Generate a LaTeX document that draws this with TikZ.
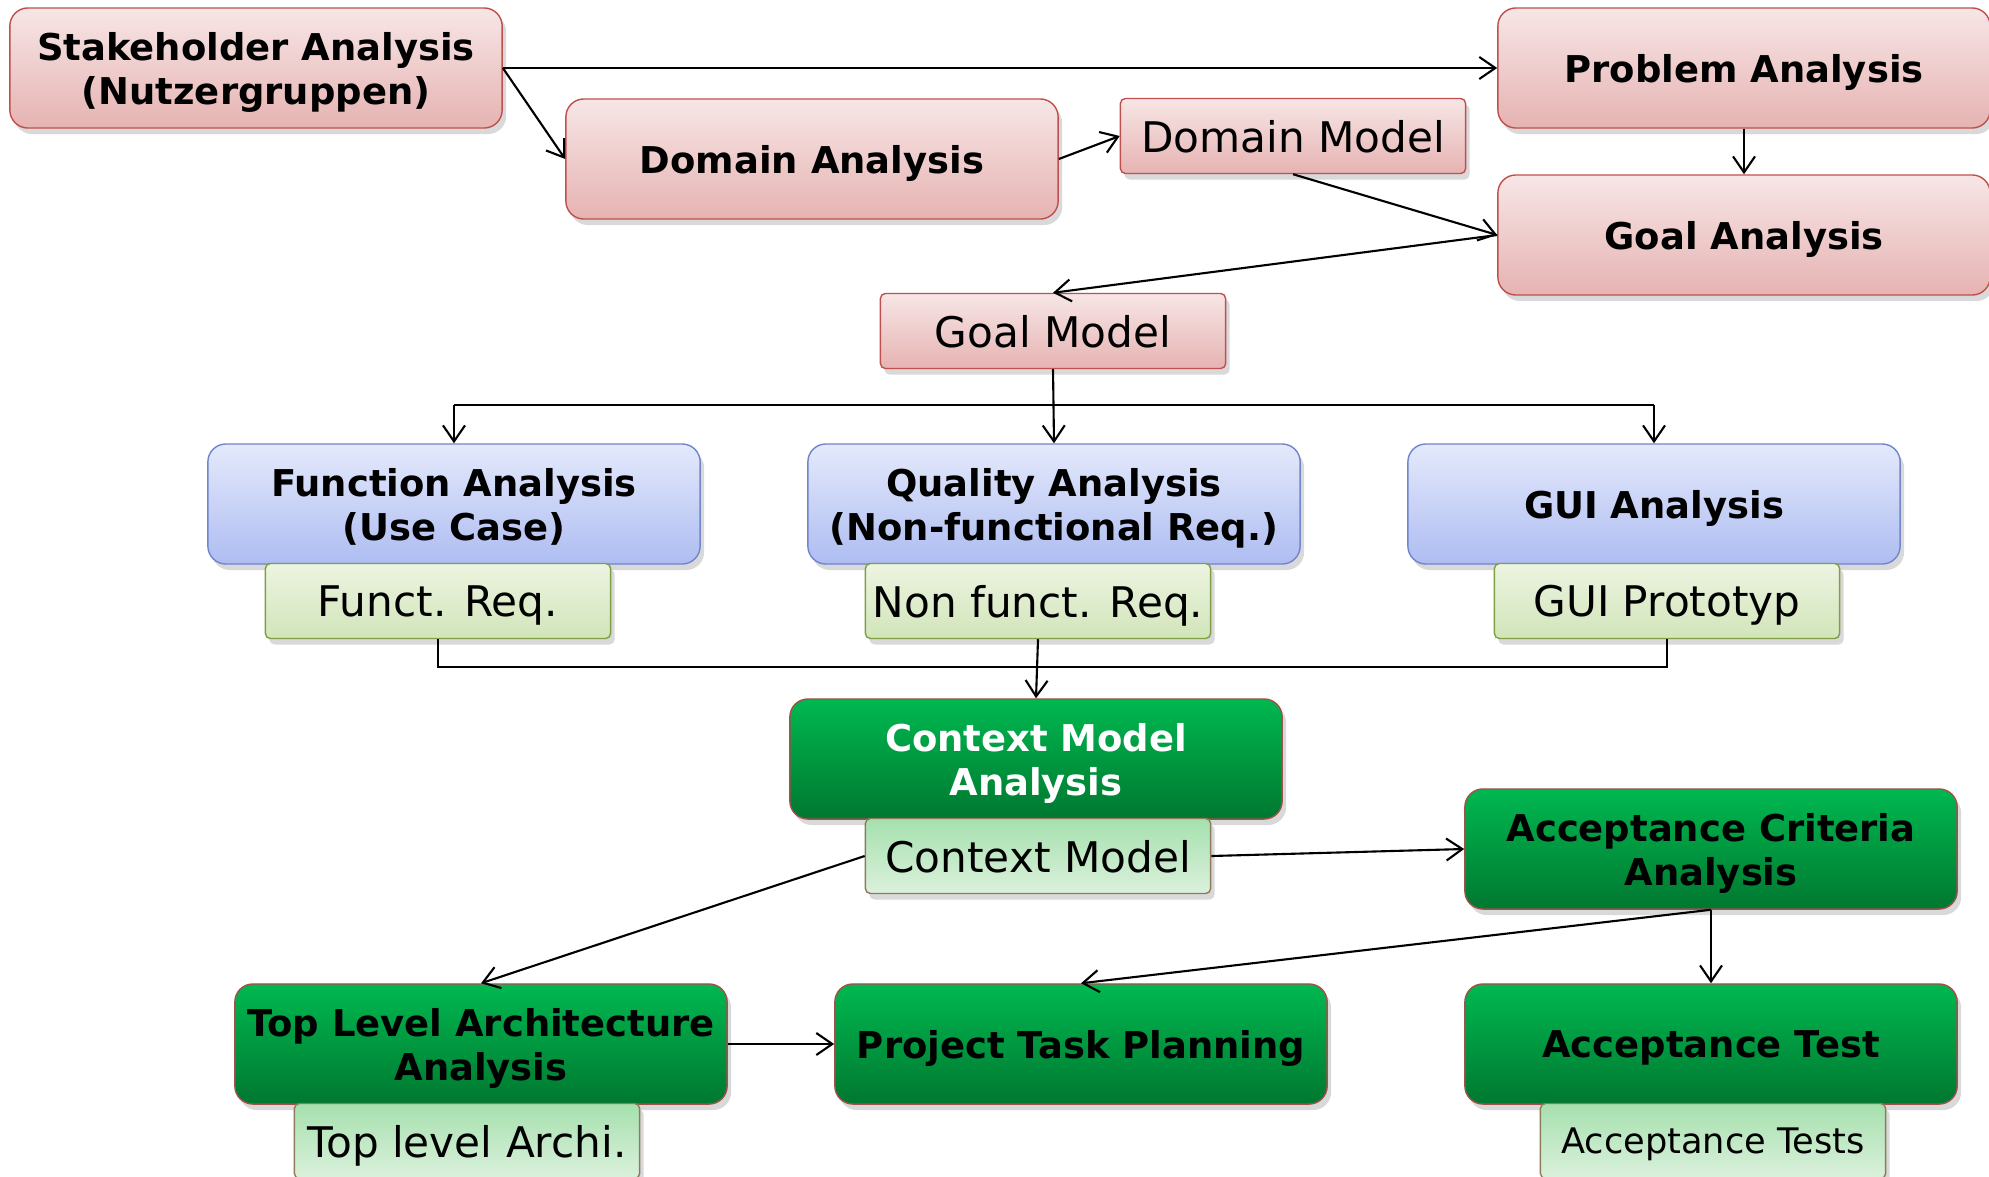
\documentclass[tikz,border=0pt]{standalone}
\usepackage{fontspec}
\setmainfont{DejaVu Sans}
\usetikzlibrary{arrows.meta,shadows}

\definecolor{redline}{HTML}{C0504D}
\definecolor{redtop}{HTML}{F7E6E6}
\definecolor{redbot}{HTML}{E6B3B2}
\definecolor{blueline}{HTML}{7085CC}
\definecolor{bluetop}{HTML}{E4E9FB}
\definecolor{bluebot}{HTML}{AEBDF2}
\definecolor{lgreenline}{HTML}{7F9F45}
\definecolor{lgreentop}{HTML}{EDF4E1}
\definecolor{lgreenbot}{HTML}{D1E5B9}
\definecolor{dgreenline}{HTML}{A0504D}
\definecolor{dgreentop}{HTML}{00B850}
\definecolor{dgreenbot}{HTML}{007830}
\definecolor{mgreenline}{HTML}{8D7B5B}
\definecolor{mgreentop}{HTML}{A6E0AE}
\definecolor{mgreenbot}{HTML}{DBF1DC}

\begin{document}
\begin{tikzpicture}[x=0.01cm,y=-0.01cm,
	>={Straight Barb[length=1.6mm,width=2.2mm]},
	shadowed/.style={drop shadow={shadow xshift=0.4mm,shadow yshift=-0.6mm,opacity=0.3}},
	bigbox/.style={shadowed,rounded corners=0.18cm,minimum width=4.92cm,minimum height=1.2cm,
		inner sep=0pt,text depth=0pt,align=center,font=\fontsize{10.5}{12.5}\selectfont\bfseries},
	smallbox/.style={shadowed,rounded corners=0.05cm,minimum width=3.45cm,minimum height=0.75cm,
		inner sep=0pt,text depth=0pt,align=center,font=\fontsize{12}{14}\selectfont},
	redbox/.style={draw=redline,top color=redtop,bottom color=redbot},
	bluebox/.style={draw=blueline,top color=bluetop,bottom color=bluebot},
	lgreenbox/.style={draw=lgreenline,top color=lgreentop,bottom color=lgreenbot},
	dgreenbox/.style={draw=dgreenline,top color=dgreentop,bottom color=dgreenbot},
	mgreenbox/.style={draw=mgreenline,top color=mgreentop,bottom color=mgreenbot}]

	\useasboundingbox (0,0) rectangle (1989,1176);

	\node [bigbox,redbox] (stake) at (256,68) {Stakeholder Analysis\\(Nutzergruppen)};
	\node [bigbox,redbox] (prob) at (1744,68) {Problem Analysis};
	\node [bigbox,redbox] (domA) at (812,159) {Domain Analysis};
	\node [smallbox,redbox] (domM) at (1293,136) {Domain Model};
	\node [bigbox,redbox] (goalA) at (1744,235) {Goal Analysis};
	\node [smallbox,redbox] (goalM) at (1053,331) {Goal Model};

	\node [bigbox,bluebox] (funcA) at (454,504) {Function Analysis\\(Use Case)};
	\node [bigbox,bluebox] (qualA) at (1054,504) {Quality Analysis\\(Non-functional Req.)};
	\node [bigbox,bluebox] (guiA) at (1654,504) {GUI Analysis};
	\node [smallbox,lgreenbox] (fReq) at (438,601) {Funct. Req.};
	\node [smallbox,lgreenbox] (nfReq) at (1038,601) {Non funct. Req.};
	\node [smallbox,lgreenbox] (guiP) at (1667,601) {GUI Prototyp};

	\node [bigbox,dgreenbox,text=white] (ctxA) at (1036,759) {Context Model\\Analysis};
	\node [smallbox,mgreenbox] (ctxM) at (1038,856) {Context Model};
	\node [bigbox,dgreenbox] (accCA) at (1711,849) {Acceptance Criteria\\Analysis};
	\node [bigbox,dgreenbox] (tla) at (481,1044) {Top Level Architecture\\Analysis};
	\node [bigbox,dgreenbox] (ptp) at (1081,1044) {Project Task Planning};
	\node [bigbox,dgreenbox] (accT) at (1711,1044) {Acceptance Test};
	\node [smallbox,mgreenbox] (tlaM) at (467,1141) {Top level Archi.};
	\node [smallbox,mgreenbox,font=\fontsize{10}{12}\selectfont] (accTs) at (1713,1141) {Acceptance Tests};

	\coordinate (gbus) at (1053,405);
	\coordinate (rbus) at (1038,667);

	\draw [semithick][->] (stake.east) -- (prob.west);
	\draw [semithick][->] (stake.east) -- (domA.west);
	\draw [semithick][->] (domA.east) -- (domM.west);
	\draw [semithick][->] (domM.south) -- (goalA.west);
	\draw [semithick][->] (prob.south) -- (goalA.north);
	\draw [semithick][->] (goalA.west) -- (goalM.north);

	\draw [semithick][->] (goalM.south) -- (qualA.north);
	\draw [semithick] (funcA.north |- gbus) -- (guiA.north |- gbus);
	\draw [semithick][->] (funcA.north |- gbus) -- (funcA.north);
	\draw [semithick][->] (guiA.north |- gbus) -- (guiA.north);

	\draw [semithick] (fReq.south) -- (fReq.south |- rbus) -- (guiP.south |- rbus) -- (guiP.south);
	\draw [semithick][->] (nfReq.south) -- (ctxA.north);

	\draw [semithick][->] (ctxM.west) -- (tla.north);
	\draw [semithick][->] (ctxM.east) -- (accCA.west);
	\draw [semithick][->] (accCA.south) -- (ptp.north);
	\draw [semithick][->] (accCA.south) -- (accT.north);
	\draw [semithick][->] (tla.east) -- (ptp.west);
\end{tikzpicture}
\end{document}
